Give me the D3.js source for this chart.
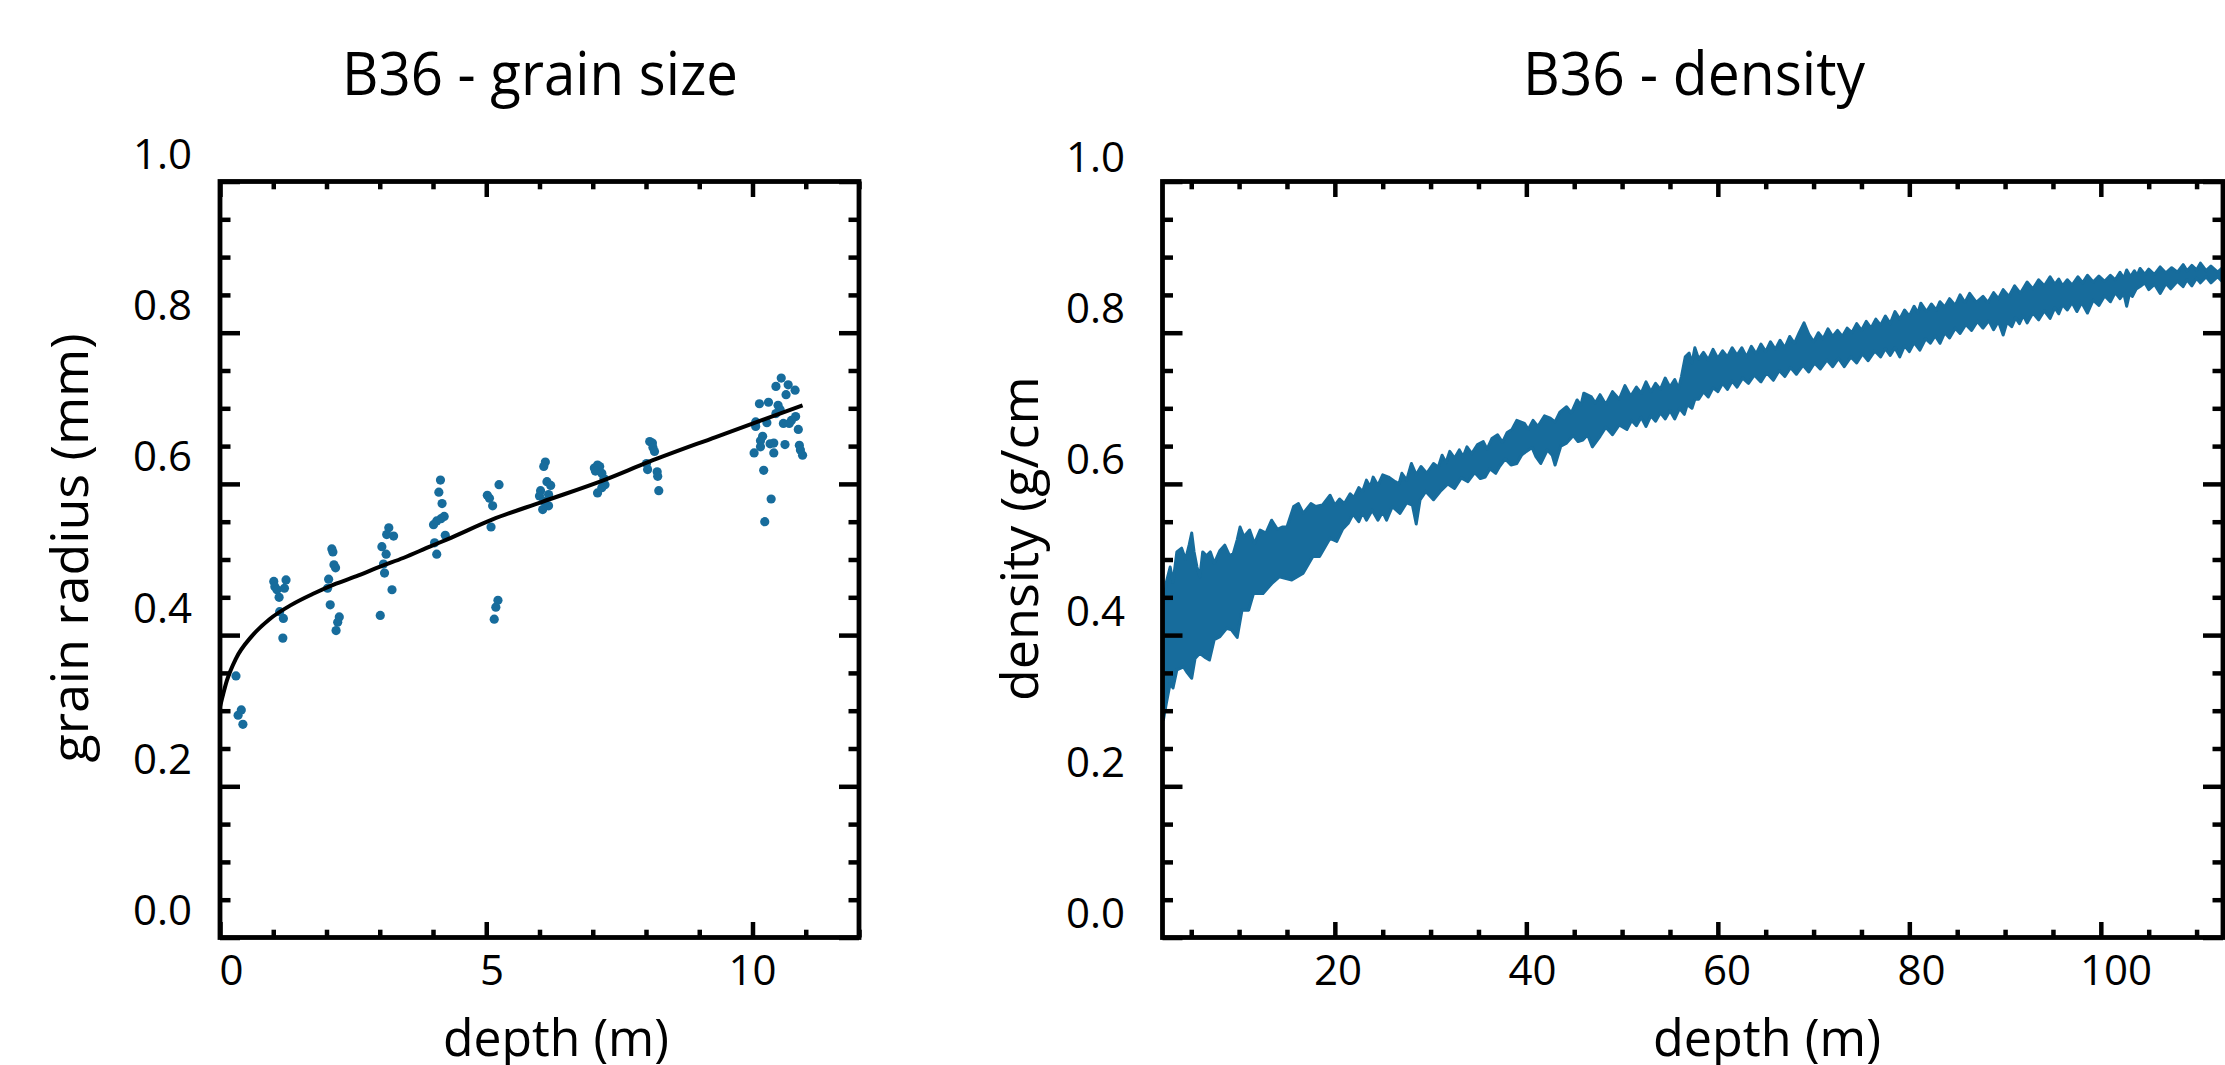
<!DOCTYPE html>
<html><head><meta charset="utf-8">
<script src="https://cdn.jsdelivr.net/npm/d3@7"></script>
<style>
body{margin:0;background:#fff}
svg{display:block}
text{font-family:"Open Sans","Noto Sans",sans-serif;fill:#000}
</style>
</head><body>
<svg id="chart" width="2225" height="1065"></svg>
<script>
// ---------- DATA ----------
const titles = ["B36 - grain size", "B36 - density"];
const xLabels = ["depth (m)", "depth (m)"];
const yLabels = ["grain radius (mm)", "density (g/cm"];

const gsXTicks = [0, 5, 10];
const densXTicks = [20, 40, 60, 80, 100];
const yTicks = [0, 0.2, 0.4, 0.6, 0.8, 1.0];

// grain size samples (depth m, radius mm)
const gsDepth = [0.30,0.40,0.34,0.43,
 1.01,1.03,1.07,1.11,1.24,1.21,1.12,1.19,1.18,
 2.10,2.12,2.14,2.17,2.04,2.02,2.07,2.24,2.21,2.18,
 3.17,3.26,3.13,3.04,3.12,3.07,3.09,3.23,3.01,
 4.14,4.11,4.17,4.21,4.15,4.07,4.01,4.23,4.03,4.07,
 5.02,5.06,5.12,5.24,5.09,5.22,5.18,5.15,
 6.11,6.08,6.14,6.21,6.02,6.00,6.17,6.08,6.17,6.06,
 7.09,7.03,7.13,7.05,7.17,7.21,7.23,7.17,7.09,
 8.07,8.12,8.13,8.16,8.01,8.03,8.21,8.22,8.24,
 10.54,10.44,10.67,10.80,10.63,10.13,10.30,10.48,10.52,10.44,10.06,10.27,10.06,10.81,10.73,10.58,10.69,10.86,10.19,10.15,10.15,10.33,10.40,10.61,10.40,10.03,10.88,10.90,10.94,10.21,10.35,10.23];
const gsRadius = [0.346,0.301,0.294,0.282,
 0.471,0.464,0.460,0.450,0.473,0.462,0.431,0.422,0.396,
 0.514,0.510,0.493,0.489,0.474,0.462,0.440,0.424,0.417,0.406,
 0.542,0.531,0.533,0.517,0.507,0.494,0.482,0.460,0.426,
 0.605,0.589,0.574,0.557,0.554,0.551,0.546,0.532,0.522,0.507,
 0.585,0.581,0.571,0.599,0.543,0.446,0.437,0.421,
 0.629,0.623,0.603,0.598,0.591,0.584,0.586,0.577,0.571,0.566,
 0.625,0.621,0.623,0.617,0.614,0.607,0.599,0.595,0.588,
 0.656,0.654,0.648,0.643,0.627,0.619,0.616,0.610,0.591,
 0.740,0.729,0.731,0.724,0.718,0.706,0.708,0.704,0.698,0.693,0.682,0.681,0.676,0.689,0.684,0.680,0.680,0.672,0.663,0.657,0.649,0.653,0.654,0.652,0.641,0.641,0.651,0.645,0.638,0.618,0.580,0.550];

// fitted curve
const fitDepth  = [0.00,0.13,0.30,0.59,0.93,1.34,1.76,2.18,2.60,3.02,3.44,3.94,4.28,5.12,6.04,7.21,8.05,9.31,10.94];
const fitRadius = [0.305,0.340,0.369,0.398,0.421,0.440,0.455,0.468,0.479,0.491,0.502,0.517,0.527,0.553,0.576,0.605,0.629,0.662,0.704];

// density record: upper edge of the noisy trace [depth m, g/cm3]
const densTop = [[2.0,.400],[2.1,.440],[2.4,.470],[2.8,.490],[3.1,.470],[3.5,.510],[4.0,.515],[4.4,.500],[4.8,.520],[5.05,.535],[5.3,.510],[5.6,.490],[5.9,.477],[6.2,.510],[6.6,.505],[7.0,.510],[7.4,.495],[8.0,.512],[8.5,.519],[9.0,.505],[9.4,.508],[9.8,.526],[10.1,.543],[10.5,.530],[11.1,.539],[11.6,.521],[12.2,.539],[12.8,.535],[13.4,.552],[14.0,.540],[14.5,.543],[15.0,.543],[15.7,.570],[16.2,.574],[16.7,.561],[17.5,.574],[18.0,.570],[18.7,.572],[19.5,.585],
 [20.0,.572],[20.5,.580],[21.0,.574],[21.6,.587],[22.0,.582],[22.5,.595],[22.9,.590],[23.3,.605],[23.7,.596],[24.0,.609],[24.5,.598],[25.0,.612],[25.6,.609],[26.3,.603],[26.7,.600],[27.0,.614],[27.5,.605],[28.0,.627],[28.5,.612],[29.0,.623],[29.6,.614],[30.3,.627],[30.8,.622],[31.2,.638],[31.6,.628],[32.0,.643],[32.5,.634],[33.0,.645],[33.4,.636],[33.8,.649],[34.3,.640],[34.9,.652],[35.5,.656],[35.9,.646],[36.4,.660],[37.0,.665],[37.5,.655],[38.0,.668],[38.5,.672],[39.0,.684],[39.8,.680],[40.2,.672],[40.7,.684],[41.2,.676],[41.9,.690],[42.5,.687],[43.0,.682],[43.5,.695],[44.2,.702],[44.7,.694],[45.3,.711],[45.7,.704],[46.0,.720],[46.8,.715],[47.2,.707],[47.7,.718],
 [48.3,.705],[49.0,.722],[49.7,.712],[50.3,.730],[50.9,.716],[51.5,.728],[52.0,.720],[52.5,.735],[53.0,.722],[53.5,.733],[54.0,.725],[54.5,.740],[55.0,.728],[55.5,.738],[55.9,.726],[56.2,.742],[56.6,.768],[57.0,.773],[57.3,.760],[57.6,.780],[58.0,.765],[58.5,.774],[59.0,.764],[59.5,.778],[60.0,.766],[60.5,.776],[61.0,.768],[61.5,.780],[62.0,.770],[62.5,.780],[63.0,.768],[63.5,.782],[64.0,.772],[64.5,.785],[65.0,.775],[65.5,.788],[66.0,.778],[66.5,.790],[67.0,.780],[67.5,.795],[68.0,.786],[68.5,.800],[69.0,.813],[69.5,.798],[70.0,.788],[70.5,.800],[71.0,.792],[71.5,.805],[72.0,.795],[72.5,.803],[73.0,.795],[73.5,.806],[74.0,.800],[74.5,.812],[75.0,.803],[75.5,.815],[76.0,.806],[76.5,.818],[77.0,.810],[77.5,.822],[78.0,.812],[78.5,.828],[79.0,.818],[79.5,.830],[80.0,.822],[80.5,.835],[80.9,.826],[81.2,.839],[81.8,.828],[82.3,.838],[82.8,.830],[83.2,.841],[83.7,.834],[84.2,.845],[84.8,.836],[85.3,.850],[85.8,.840],[86.3,.852],[87.0,.840],[87.7,.848],[88.2,.840],[88.8,.853],[89.3,.845],[89.8,.857],[90.4,.848],[91.0,.862],[91.6,.852],[92.3,.867],[92.9,.858],[93.5,.870],[94.1,.862],[94.7,.874],[95.2,.864],[95.6,.871],[96.0,.862],[96.5,.870],[97.0,.863],[97.6,.874],[98.1,.866],[98.6,.876],[99.2,.867],[99.8,.875],[100.4,.868],[101.0,.876],[101.5,.870],[102.0,.880],[102.4,.872],[102.7,.883],[103.1,.874],[103.5,.882],[103.8,.876],[104.1,.885],[104.6,.877],[105.0,.884],[105.6,.877],[106.2,.887],[106.8,.879],[107.4,.886],[108.0,.880],[108.6,.890],[109.0,.882],[109.5,.889],[110.0,.883],[110.4,.892],[111.0,.882],[111.5,.888],[112.2,.880],[112.8,.887]];
// lower edge of the noisy trace [depth m, g/cm3]
const densBottom = [[2.0,.300],[2.1,.288],[2.4,.310],[2.8,.336],[3.1,.330],[3.5,.354],[4.2,.358],[4.6,.350],[5.05,.343],[5.4,.369],[5.9,.376],[6.5,.370],[6.9,.367],[7.4,.394],[8.0,.398],[8.7,.409],[9.2,.407],[9.8,.397],[10.3,.433],[11.0,.433],[11.5,.455],[12.5,.455],[13.4,.468],[14.2,.477],[14.8,.475],[15.5,.473],[16.7,.482],[17.7,.504],[18.4,.504],[19.5,.528],
 [20.2,.524],[20.8,.540],[21.4,.548],[21.9,.560],[22.5,.550],[22.9,.562],[23.3,.552],[23.9,.565],[24.5,.552],[25.0,.563],[25.4,.552],[26.0,.570],[26.8,.561],[27.5,.575],[28.1,.572],[28.5,.547],[28.9,.579],[29.5,.590],[30.3,.579],[31.0,.590],[31.8,.600],[32.5,.594],[33.2,.608],[33.9,.603],[34.6,.615],[35.2,.607],[35.7,.609],[36.2,.620],[36.8,.614],[37.2,.623],[37.8,.633],[38.4,.625],[39.0,.627],[39.5,.638],[40.0,.643],[40.6,.648],[41.0,.636],[41.5,.627],[42.2,.645],[42.7,.638],[43.0,.625],[43.6,.650],[44.2,.654],[44.9,.664],[45.4,.656],[45.9,.658],[46.4,.665],[46.9,.649],[47.7,.663],
 [48.3,.675],[49.0,.665],[49.7,.678],[50.5,.672],[51.0,.684],[51.5,.677],[52.0,.688],[52.5,.676],[53.0,.690],[53.5,.683],[54.0,.694],[54.5,.686],[55.0,.697],[55.5,.686],[56.0,.700],[56.5,.692],[56.8,.705],[57.3,.700],[57.6,.712],[58.0,.712],[58.5,.722],[59.0,.715],[59.5,.727],[60.0,.722],[60.5,.733],[61.0,.725],[61.5,.736],[62.0,.728],[62.6,.740],[63.2,.733],[63.8,.744],[64.5,.735],[65.1,.747],[65.8,.737],[66.4,.750],[67.0,.742],[67.6,.754],[68.2,.745],[68.9,.757],[69.5,.748],[70.1,.760],[70.7,.752],[71.4,.764],[72.0,.755],[72.6,.766],[73.2,.755],[73.9,.768],[74.5,.760],[75.1,.772],[75.7,.763],[76.4,.776],[77.0,.768],[77.5,.779],[78.0,.770],[78.5,.780],[79.0,.768],[79.5,.783],[80.0,.775],[80.5,.787],[81.1,.777],[81.7,.792],[82.2,.786],[82.7,.796],[83.2,.786],[83.7,.800],[84.2,.793],[84.8,.806],[85.3,.799],[85.9,.811],[86.5,.803],[87.1,.815],[87.7,.806],[88.3,.816],[88.8,.804],[89.3,.815],[89.8,.797],[90.2,.814],[90.7,.808],[91.1,.820],[91.5,.812],[91.9,.823],[92.3,.813],[92.9,.826],[93.5,.817],[94.1,.829],[94.7,.819],[95.2,.833],[95.6,.825],[96.0,.837],[96.5,.830],[97.0,.840],[97.5,.828],[98.0,.840],[98.6,.826],[99.2,.843],[99.8,.836],[100.4,.849],[101.0,.841],[101.5,.853],[102.0,.845],[102.4,.852],[102.7,.835],[103.0,.852],[103.3,.848],[103.7,.858],[104.1,.861],[104.6,.866],[105.0,.857],[105.6,.864],[106.2,.852],[106.8,.865],[107.3,.858],[108.0,.868],[108.6,.861],[109.0,.870],[109.5,.862],[110.0,.872],[110.4,.866],[111.0,.874],[111.5,.866],[112.2,.874],[112.8,.866]];

// ---------- DRAW ----------
const blue = "#176c9c";
const svg = d3.select("#chart");

const plotTop = 181.5, plotBottom = 937.5;
const panels = [
  {x0:220, x1:859, dom:[0,12], xMaj:[0,5,10], xMin:d3.range(1,13).filter(v=>v%5!==0),
   xTickLab:gsXTicks, labDom:[0,10], labRange:[231.5,752.5], yLabX:192, yLabDy:-12.5,
   title:titles[0], titleX:540, titleLen:396, xlab:xLabels[0], xlabX:556, xlabLen:226},
  {x0:1162.5, x1:2223, dom:[2,112.76], xMaj:[20,40,60,80,100], xMin:d3.range(5,115,5).filter(v=>v%20!==0),
   xTickLab:densXTicks, labDom:[20,100], labRange:[1338,2116], yLabX:1125, yLabDy:-9.5,
   title:titles[1], titleX:1694, titleLen:342, xlab:xLabels[1], xlabX:1767, xlabLen:228}
];

const yMin = d3.range(1,20).map(i=>+(i*0.05).toFixed(2)).filter(v=>Math.round(v*100)%20!==0);

panels.forEach((p,i)=>{
  p.x = d3.scaleLinear().domain(p.dom).range([p.x0,p.x1]);
  p.y = d3.scaleLinear().domain([0,1]).range([plotBottom,plotTop]);
  p.xl = d3.scaleLinear().domain(p.labDom).range(p.labRange);
  const g = svg.append("g");
  p.g = g;
  const clipId = "clip"+i;
  svg.append("clipPath").attr("id",clipId).append("rect")
    .attr("x",p.x0).attr("y",plotTop).attr("width",p.x1-p.x0).attr("height",plotBottom-plotTop);
  p.plot = g.append("g").attr("clip-path",`url(#${clipId})`);
});

// panel 0: grain size
{
  const p = panels[0];
  const pts = gsDepth.map((d,i)=>[d,gsRadius[i]]);
  p.plot.selectAll("circle").data(pts).join("circle")
    .attr("cx",d=>p.x(d[0])).attr("cy",d=>p.y(d[1])).attr("r",4.6).attr("fill",blue);
  const fit = fitDepth.map((d,i)=>[d,fitRadius[i]]);
  p.plot.append("path").datum(fit)
    .attr("d",d3.line().x(d=>p.x(d[0])).y(d=>p.y(d[1])).curve(d3.curveMonotoneX))
    .attr("fill","none").attr("stroke","#000").attr("stroke-width",4);
}
// panel 1: density band
{
  const p = panels[1];
  const topPts = densTop.slice().sort((a,b)=>a[0]-b[0]);
  const botPts = densBottom.slice().sort((a,b)=>b[0]-a[0]);
  const poly = topPts.concat(botPts);
  p.plot.append("path")
    .attr("d",d3.line().x(d=>p.x(d[0])).y(d=>p.y(d[1]))(poly)+"Z")
    .attr("fill",blue).attr("stroke",blue).attr("stroke-width",3).attr("stroke-linejoin","round");
}

// frames, ticks, labels
panels.forEach(p=>{
  const g = p.g;
  const tw = 4.5;
  const mk = (axis, tr) => {
    const a = g.append("g").attr("transform",tr).call(axis);
    a.select(".domain").remove();
    a.selectAll(".tick line").attr("stroke","#000").attr("stroke-width",tw);
    a.selectAll(".tick text").remove();
  };
  mk(d3.axisBottom(p.x).tickValues(p.xMin).tickSize(-7.8).tickFormat(""), `translate(0,${plotBottom})`);
  mk(d3.axisBottom(p.x).tickValues(p.xMaj).tickSize(-15.5).tickFormat(""), `translate(0,${plotBottom})`);
  mk(d3.axisTop(p.x).tickValues(p.xMin).tickSize(-7.8).tickFormat(""), `translate(0,${plotTop})`);
  mk(d3.axisTop(p.x).tickValues(p.xMaj).tickSize(-15.5).tickFormat(""), `translate(0,${plotTop})`);
  mk(d3.axisLeft(p.y).tickValues(yMin).tickSize(-10.5).tickFormat(""), `translate(${p.x0},0)`);
  mk(d3.axisLeft(p.y).tickValues(yTicks).tickSize(-20).tickFormat(""), `translate(${p.x0},0)`);
  mk(d3.axisRight(p.y).tickValues(yMin).tickSize(-10.5).tickFormat(""), `translate(${p.x1},0)`);
  mk(d3.axisRight(p.y).tickValues(yTicks).tickSize(-20).tickFormat(""), `translate(${p.x1},0)`);
  g.append("rect").attr("x",p.x0).attr("y",plotTop).attr("width",p.x1-p.x0).attr("height",plotBottom-plotTop)
    .attr("fill","none").attr("stroke","#000").attr("stroke-width",4.8);
  g.selectAll(".ylab").data(yTicks).join("text").attr("class","ylab")
    .attr("x",p.yLabX).attr("y",d=>p.y(d)+p.yLabDy)
    .attr("text-anchor","end").attr("font-size",42).text(d3.format(".1f"));
  g.selectAll(".xlab").data(p.xTickLab).join("text").attr("class","xlab")
    .attr("x",d=>p.xl(d)).attr("y",985)
    .attr("text-anchor","middle").attr("font-size",42).text(d=>d);
  g.append("text").attr("x",p.titleX).attr("y",95).attr("text-anchor","middle")
    .attr("font-size",60).attr("textLength",p.titleLen).attr("lengthAdjust","spacingAndGlyphs").text(p.title);
  g.append("text").attr("x",p.xlabX).attr("y",1056).attr("text-anchor","middle")
    .attr("font-size",52).attr("textLength",p.xlabLen).attr("lengthAdjust","spacingAndGlyphs").text(p.xlab);
});
svg.append("text").attr("transform","translate(88,548) rotate(-90)").attr("text-anchor","middle")
  .attr("font-size",52).text(yLabels[0]);
svg.append("text").attr("transform","translate(1038,701) rotate(-90)").attr("text-anchor","start")
  .attr("font-size",52).text(yLabels[1]);
</script>
</body></html>
